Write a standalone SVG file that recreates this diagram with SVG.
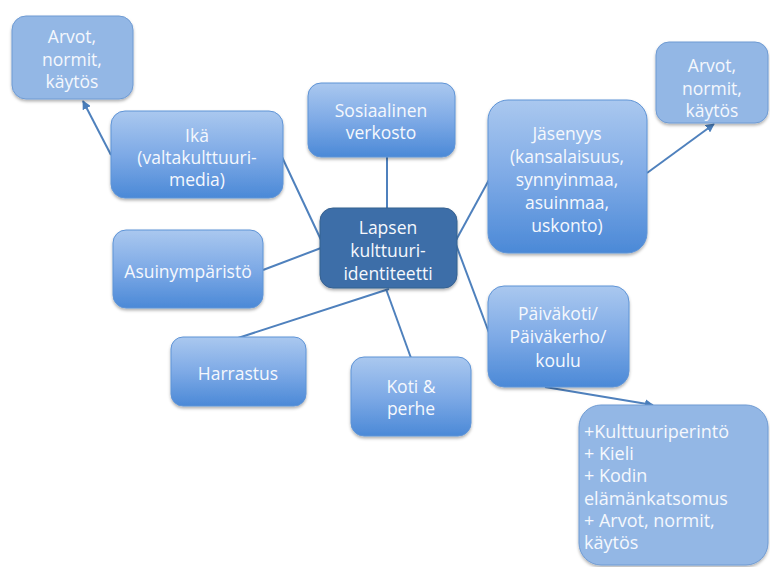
<svg xmlns="http://www.w3.org/2000/svg" width="770" height="567" viewBox="0 0 770 567">
<defs>
  <linearGradient id="g" x1="0" y1="0" x2="0" y2="1">
    <stop offset="0" stop-color="#aac8ef"/>
    <stop offset="0.5" stop-color="#7eaae6"/>
    <stop offset="1" stop-color="#4b89d7"/>
  </linearGradient>
  <filter id="sh" x="-10%" y="-10%" width="130%" height="130%">
    <feDropShadow dx="0" dy="2" stdDeviation="1.5" flood-color="#000" flood-opacity="0.3"/>
  </filter>
  <marker id="ar" viewBox="0 0 10 10" refX="9" refY="5" markerWidth="9" markerHeight="9" markerUnits="userSpaceOnUse" orient="auto">
    <path d="M0,0 L10,5 L0,10 z" fill="#4a7ebb"/>
  </marker>
  <style>
    .grad { fill: url(#g); stroke: #5f94d6; stroke-width: 1; filter: url(#sh); }
    .light { fill: #93b7e5; stroke: #6f9bd3; stroke-width: 1; filter: url(#sh); }
    .center { fill: #3e6ea8; stroke: #35608f; stroke-width: 1; filter: url(#sh); }
    text { font-family: "Open Sans", "Liberation Sans", sans-serif; font-size: 17.5px; fill: #f5f8fd; text-anchor: middle; }
    .left { text-anchor: start; font-size: 18px; }
    .conn line { stroke: #4f81bd; stroke-width: 2; }
  </style>
</defs>
<rect width="770" height="567" fill="#ffffff"/>
<g id="connectors" class="conn">
  <line x1="111" y1="155" x2="83" y2="101" marker-end="url(#ar)"/>
  <line x1="282" y1="157" x2="322" y2="242"/>
  <line x1="387" y1="157" x2="387" y2="209"/>
  <line x1="455" y1="242" x2="490" y2="178"/>
  <line x1="455" y1="242" x2="491" y2="338"/>
  <line x1="321" y1="248" x2="263" y2="270"/>
  <line x1="389" y1="289" x2="238" y2="338"/>
  <line x1="386" y1="289" x2="411" y2="358"/>
  <line x1="647" y1="173" x2="714" y2="124" marker-end="url(#ar)"/>
  <line x1="545" y1="387" x2="653" y2="405" marker-end="url(#ar)"/>
</g>
<g id="arvot-left">
  <rect class="light" x="12" y="16" width="121" height="83" rx="14"/>
  <text x="72" y="43">Arvot,</text>
  <text x="72" y="66">normit,</text>
  <text x="72" y="88">käytös</text>
</g>
<g id="ika">
  <rect class="grad" x="111" y="111" width="172" height="87" rx="14"/>
  <text x="197" y="142">Ikä</text>
  <text x="197" y="164">(valtakulttuuri-</text>
  <text x="197" y="186">media)</text>
</g>
<g id="sosiaalinen">
  <rect class="grad" x="308" y="83" width="147" height="74" rx="13"/>
  <text x="381" y="117">Sosiaalinen</text>
  <text x="381" y="139">verkosto</text>
</g>
<g id="lapsen">
  <rect class="center" x="320" y="208" width="137" height="80" rx="13"/>
  <text x="388" y="234">Lapsen</text>
  <text x="388" y="257">kulttuuri-</text>
  <text x="388" y="280">identiteetti</text>
</g>
<g id="jasenyys">
  <rect class="grad" x="488" y="100" width="159" height="153" rx="20"/>
  <text x="567" y="140">Jäsenyys</text>
  <text x="567" y="163">(kansalaisuus,</text>
  <text x="567" y="186">synnyinmaa,</text>
  <text x="567" y="209">asuinmaa,</text>
  <text x="567" y="232">uskonto)</text>
</g>
<g id="arvot-right">
  <rect class="light" x="656" y="42" width="112" height="81" rx="13"/>
  <text x="712" y="72">Arvot,</text>
  <text x="712" y="95">normit,</text>
  <text x="712" y="117">käytös</text>
</g>
<g id="asuinymparisto">
  <rect class="grad" x="113" y="230" width="150" height="78" rx="13"/>
  <text x="188" y="278">Asuinympäristö</text>
</g>
<g id="harrastus">
  <rect class="grad" x="171" y="337" width="135" height="69" rx="12"/>
  <text x="238" y="380">Harrastus</text>
</g>
<g id="koti">
  <rect class="grad" x="351" y="357" width="120" height="79" rx="13"/>
  <text x="411" y="393">Koti &amp;</text>
  <text x="411" y="415">perhe</text>
</g>
<g id="paivakoti">
  <rect class="grad" x="488" y="286" width="141" height="101" rx="16"/>
  <text x="558" y="320">Päiväkoti/</text>
  <text x="558" y="343">Päiväkerho/</text>
  <text x="558" y="367">koulu</text>
</g>
<g id="kulttuuriperinto">
  <rect class="light" x="579" y="405" width="189" height="160" rx="22"/>
  <text class="left" x="584" y="438">+Kulttuuriperintö</text>
  <text class="left" x="584" y="460">+ Kieli</text>
  <text class="left" x="584" y="482">+ Kodin</text>
  <text class="left" x="584" y="505">elämänkatsomus</text>
  <text class="left" x="584" y="527">+ Arvot, normit,</text>
  <text class="left" x="584" y="549">käytös</text>
</g>
</svg>
